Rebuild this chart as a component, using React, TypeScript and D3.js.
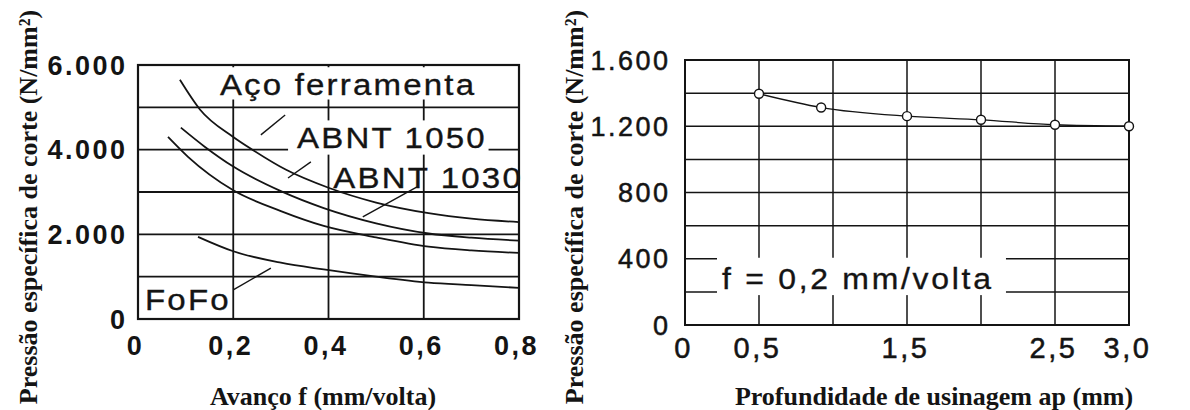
import { useEffect, useRef } from 'react'
import * as d3 from 'd3'

type Pt = [number, number]

// ---- left panel: pressão específica x avanço ----
const feedTicks = [0, 0.2, 0.4, 0.6, 0.8]
const feedTickLabels = ['0', '0,2', '0,4', '0,6', '0,8']
const feedGrid = [0.2, 0.4, 0.6]
const ksTicksLeft = [0, 2000, 4000, 6000]
const ksTickLabelsLeft = ['0', '2.000', '4.000', '6.000']
const ksGridLeft = [1000, 2000, 3000, 4000, 5000]

const acoFerramenta: Pt[] = [[0.088, 5650], [0.13, 4950], [0.2, 4300], [0.24, 4000], [0.31, 3530], [0.4, 3100], [0.5, 2750], [0.61, 2500], [0.7, 2370], [0.8, 2290]]
const abnt1050: Pt[] = [[0.09, 4520], [0.14, 4070], [0.2, 3600], [0.3, 3020], [0.39, 2620], [0.5, 2260], [0.61, 2020], [0.7, 1920], [0.8, 1850]]
const abnt1030: Pt[] = [[0.063, 4300], [0.105, 3830], [0.2, 3040], [0.3, 2550], [0.39, 2200], [0.5, 1930], [0.61, 1710], [0.7, 1620], [0.8, 1560]]
const fofo: Pt[] = [[0.126, 1940], [0.2, 1600], [0.3, 1330], [0.39, 1170], [0.5, 1000], [0.61, 860], [0.7, 800], [0.8, 735]]

// labels + leader lines, in data units
const leftNotes = [
  { text: 'Aço ferramenta', at: [0.172, 5295], leader: [[0.258, 4350], [0.309, 4820]], box: [4, 0, 4, -2] },
  { text: 'ABNT 1050', at: [0.334, 4040], leader: [[0.315, 3330], [0.363, 3710]], box: [9, 0, 4, 0] },
  { text: 'ABNT 1030', at: [0.41, 3095], leader: [[0.472, 2410], [0.586, 3120]], box: null },
  { text: 'FoFo', at: [0.0147, 213], leader: [[0.2, 690], [0.279, 1200]], box: null },
]

// ---- right panel: pressão específica x profundidade ----
const depthTicks = [0, 0.5, 1.5, 2.5, 3.0]
const depthTickLabels = ['0', '0,5', '1,5', '2,5', '3,0']
const depthGrid = [0.5, 1, 1.5, 2, 2.5]
const ksTicksRight = [0, 400, 800, 1200, 1600]
const ksTickLabelsRight = ['0', '400', '800', '1.200', '1.600']
const ksGridRight = [200, 400, 600, 800, 1000, 1200, 1400]

const depth = [0.5, 0.92, 1.5, 2.0, 2.5, 3.0]
const ksDepth = [1396, 1313, 1261, 1239, 1209, 1200]

const rightNote = { text: 'f = 0,2 mm/volta', at: [0.25, 215], box: [5, 5, 15, 0] }

const W = 1190
const H = 410
const INK = '#141414'
const SANS = "'Liberation Sans', Arial, Helvetica, sans-serif"
const SERIF = "'Liberation Serif', 'Times New Roman', serif"
const Y_TITLE = 'Pressão específica de corte (N/mm²)'

export default function App() {
  const ref = useRef<SVGSVGElement>(null)

  useEffect(() => {
    if (!ref.current) return
    d3.select(ref.current).selectAll('*').remove()
    render(ref.current)
  }, [])

  return (
    <svg
      ref={ref}
      width={W}
      height={H}
      style={{ position: 'absolute', left: 0, top: 0, display: 'block' }}
    />
  )
}

// text drawn a bit wider than the font, like the scanned lettering
function addLabel(layer: any, boxLayer: any, text: string, px: number, py: number, size: number, ls: number, sx: number, box: number[] | null) {
  const tf = `translate(${px},${py}) scale(${sx},1)`
  const boxG = boxLayer.append('g').attr('transform', tf)
  const t = layer.append('g').attr('transform', tf)
    .append('text')
    .attr('font-family', SANS)
    .attr('font-size', size)
    .attr('fill', INK)
    .attr('stroke', INK)
    .attr('stroke-width', 0.35)
    .style('letter-spacing', `${ls}px`)
    .text(text)
  if (box) {
    const b = (t.node() as SVGTextElement).getBBox()
    const [l, tp, r, bt] = box
    boxG.append('rect')
      .attr('x', b.x - l / sx)
      .attr('y', b.y - tp)
      .attr('width', b.width - ls + (l + r) / sx)
      .attr('height', b.height + tp + bt)
      .attr('fill', '#fff')
  }
}

function render(el: SVGSVGElement) {
  const svg = d3.select(el)
  svg.append('rect').attr('width', W).attr('height', H).attr('fill', '#fff')

  // ---------------- left panel ----------------
  const x = d3.scaleLinear().domain([0, 0.8]).range([138, 519])
  const y = d3.scaleLinear().domain([0, 6000]).range([319, 65])

  const gL = svg.append('g')
  const grid = gL.append('g')
  const boxes = gL.append('g')
  const marks = gL.append('g')
  const leaders = gL.append('g')
  const labels = gL.append('g')

  grid.append('g').selectAll('line').data(ksGridLeft).join('line')
    .attr('x1', x(0)).attr('x2', x(0.8))
    .attr('y1', (d) => y(d)).attr('y2', (d) => y(d))
    .attr('stroke', INK).attr('stroke-width', 1.8)
  grid.append('g').selectAll('line').data(feedGrid).join('line')
    .attr('x1', (d) => x(d)).attr('x2', (d) => x(d))
    .attr('y1', y(6000)).attr('y2', y(0))
    .attr('stroke', INK).attr('stroke-width', 1.8)
  grid.append('rect')
    .attr('x', x(0)).attr('y', y(6000))
    .attr('width', x(0.8) - x(0)).attr('height', y(0) - y(6000))
    .attr('fill', 'none').attr('stroke', INK).attr('stroke-width', 2.2)

  const line = d3.line<Pt>().x((d) => x(d[0])).y((d) => y(d[1])).curve(d3.curveMonotoneX)
  marks.selectAll('path').data([acoFerramenta, abnt1050, abnt1030, fofo]).join('path')
    .attr('d', (d) => line(d))
    .attr('fill', 'none').attr('stroke', INK).attr('stroke-width', 1.8)

  leaders.selectAll('line').data(leftNotes).join('line')
    .attr('x1', (d) => x(d.leader[0][0])).attr('y1', (d) => y(d.leader[0][1]))
    .attr('x2', (d) => x(d.leader[1][0])).attr('y2', (d) => y(d.leader[1][1]))
    .attr('stroke', INK).attr('stroke-width', 1.4)

  leftNotes.forEach((n) => addLabel(labels, boxes, n.text, x(n.at[0]), y(n.at[1]), 30, 2, 1.1, n.box))

  // axes
  svg.append('g')
    .attr('transform', `translate(0,${y(0)})`)
    .call(d3.axisBottom(x).tickValues(feedTicks).tickFormat((_, i) => feedTickLabels[i]).tickSize(0).tickPadding(0))
    .call((s) => s.select('.domain').remove())
    .call((s) => s.selectAll('text')
      .attr('y', 36).attr('dy', 0).attr('dx', -3)
      .attr('font-family', SANS).attr('font-size', 27).attr('font-weight', 'bold')
      .attr('fill', INK).style('letter-spacing', '2.5px'))

  svg.append('g')
    .attr('transform', 'translate(127.5,0)')
    .call(d3.axisLeft(y).tickValues(ksTicksLeft).tickFormat((_, i) => ksTickLabelsLeft[i]).tickSize(0).tickPadding(0))
    .call((s) => s.select('.domain').remove())
    .call((s) => s.selectAll('text')
      .attr('dy', '0.34em')
      .attr('font-family', SANS).attr('font-size', 27).attr('font-weight', 'bold')
      .attr('fill', INK).style('letter-spacing', '2.5px'))

  // ---------------- right panel ----------------
  const x2 = d3.scaleLinear().domain([0, 3]).range([685, 1129])
  const y2 = d3.scaleLinear().domain([0, 1600]).range([325, 60])

  const gR = svg.append('g')
  const rGrid = gR.append('g')
  const rBoxes = gR.append('g')
  const rMarks = gR.append('g')
  const rLabels = gR.append('g')

  rGrid.append('g').selectAll('line').data(ksGridRight).join('line')
    .attr('x1', x2(0)).attr('x2', x2(3))
    .attr('y1', (d) => y2(d)).attr('y2', (d) => y2(d))
    .attr('stroke', INK).attr('stroke-width', 1.5)
  rGrid.append('g').selectAll('line').data(depthGrid).join('line')
    .attr('x1', (d) => x2(d)).attr('x2', (d) => x2(d))
    .attr('y1', y2(1600)).attr('y2', y2(0))
    .attr('stroke', INK).attr('stroke-width', 1.5)
  rGrid.append('rect')
    .attr('x', x2(0)).attr('y', y2(1600))
    .attr('width', x2(3) - x2(0)).attr('height', y2(0) - y2(1600))
    .attr('fill', 'none').attr('stroke', INK).attr('stroke-width', 2)

  const pts: Pt[] = depth.map((d, i) => [d, ksDepth[i]])
  const line2 = d3.line<Pt>().x((d) => x2(d[0])).y((d) => y2(d[1])).curve(d3.curveMonotoneX)
  rMarks.append('path')
    .attr('d', line2(pts))
    .attr('fill', 'none').attr('stroke', INK).attr('stroke-width', 1.3)
  rMarks.selectAll('circle').data(pts).join('circle')
    .attr('cx', (d) => x2(d[0])).attr('cy', (d) => y2(d[1])).attr('r', 4.5)
    .attr('fill', '#fff').attr('stroke', INK).attr('stroke-width', 1.4)

  addLabel(rLabels, rBoxes, rightNote.text, x2(rightNote.at[0]), y2(rightNote.at[1]), 29, 2.5, 1.1, rightNote.box)

  svg.append('g')
    .attr('transform', `translate(0,${y2(0)})`)
    .call(d3.axisBottom(x2).tickValues(depthTicks).tickFormat((_, i) => depthTickLabels[i]).tickSize(0).tickPadding(0))
    .call((s) => s.select('.domain').remove())
    .call((s) => s.selectAll('text')
      .attr('y', 33).attr('dy', 0).attr('dx', -2)
      .attr('font-family', SANS).attr('font-size', 29)
      .attr('fill', INK).attr('stroke', INK).attr('stroke-width', 0.5)
      .style('letter-spacing', '2.5px'))

  svg.append('g')
    .attr('transform', 'translate(670.5,0)')
    .call(d3.axisLeft(y2).tickValues(ksTicksRight).tickFormat((_, i) => ksTickLabelsRight[i]).tickSize(0).tickPadding(0))
    .call((s) => s.select('.domain').remove())
    .call((s) => s.selectAll('text')
      .attr('dy', '0.34em')
      .attr('font-family', SANS).attr('font-size', 27)
      .attr('fill', INK).attr('stroke', INK).attr('stroke-width', 0.5)
      .style('letter-spacing', '2.5px'))

  // ---------------- axis titles ----------------
  const title = (tx: number, ty: number, text: string, rotate: boolean) =>
    svg.append('text')
      .attr('transform', rotate ? `translate(${tx},${ty}) rotate(-90)` : `translate(${tx},${ty})`)
      .attr('text-anchor', 'middle')
      .attr('font-family', SERIF)
      .attr('font-size', 26)
      .attr('font-weight', 'bold')
      .attr('fill', INK)
      .text(text)

  title(37, 207, Y_TITLE, true)
  title(583, 207, Y_TITLE, true)
  title(323, 405, 'Avanço f (mm/volta)', false)
  title(934, 405, 'Profundidade de usinagem ap (mm)', false)
}
